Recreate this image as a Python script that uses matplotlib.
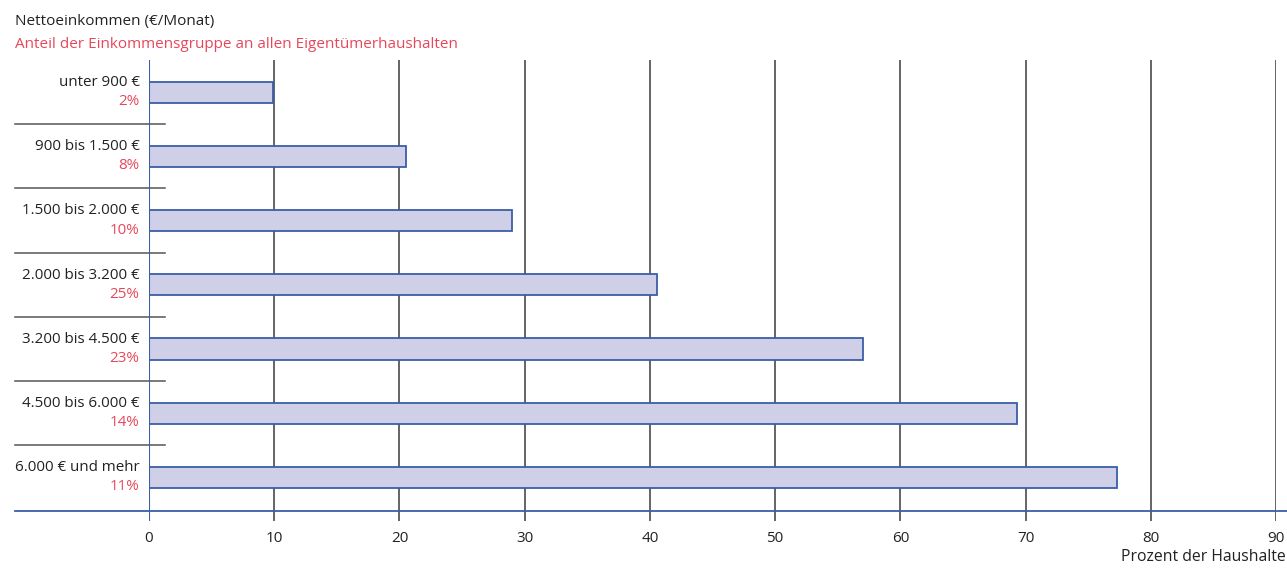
import numpy as np
import matplotlib.pyplot as plt

# Data
categories = [
    "unter 900 €",
    "900 bis 1.500 €",
    "1.500 bis 2.000 €",
    "2.000 bis 3.200 €",
    "3.200 bis 4.500 €",
    "4.500 bis 6.000 €",
    "6.000 € und mehr",
]
shares = ["2%", "8%", "10%", "25%", "23%", "14%", "11%"]
values = [9.9, 20.5, 29.0, 40.6, 57.0, 69.3, 77.3]
xticks = [0, 10, 20, 30, 40, 50, 60, 70, 80, 90]

BLUE = "#3b5ea8"
FILL = "#cfcfe8"
RED = "#e8465a"
GRID = "#3a3a3a"

plt.rcParams["font.family"] = ["Open Sans", "DejaVu Sans"]

W, H = 1287, 568
fig = plt.figure(figsize=(W / 100, H / 100), dpi=100)


def px(x0, y0, x1, y1):
    return [x0 / W, 1 - y1 / H, (x1 - x0) / W, (y1 - y0) / H]


ax = fig.add_axes(px(149, 60, 1276, 521))
ax.set_xlim(0, 90)
ax.set_ylim(7.18, 0)

y = np.arange(len(categories)) + 0.5
ax.barh(y, values, height=0.33, color=FILL, edgecolor=BLUE, linewidth=1.3, zorder=3)

for x in xticks[1:]:
    ax.axvline(x, color=GRID, linewidth=1.1, zorder=1)
ax.axvline(0, color=BLUE, linewidth=1.5, zorder=4)

for sp in ax.spines.values():
    sp.set_visible(False)

# separators between categories (extend into the label area)
xl = -134 / 12.52
for i in range(1, len(categories)):
    ax.plot([xl, 1.3], [i, i], color="#555555", linewidth=1.1, clip_on=False, zorder=2)
ax.plot([xl, 91.0], [7.02, 7.02], color=BLUE, linewidth=1.3, clip_on=False, zorder=4)

for yi, name, sh in zip(y, categories, shares):
    ax.text(-0.75, yi - 0.15, name, ha="right", va="center", fontsize=10.9, color="#222222")
    ax.text(-0.75, yi + 0.15, sh, ha="right", va="center", fontsize=10.9, color=RED)

ax.set_yticks([])
ax.set_xticks(xticks)
ax.set_xticklabels([str(t) for t in xticks], fontsize=11, color="#222222")
ax.tick_params(axis="x", length=0, pad=7)

fig.text(15 / W, 1 - 22 / H, "Nettoeinkommen (€/Monat)", ha="left", va="center",
         fontsize=11, color="#222222")
fig.text(15 / W, 1 - 45 / H, "Anteil der Einkommensgruppe an allen Eigentümerhaushalten",
         ha="left", va="center", fontsize=11, color=RED)
fig.text(1 - 1 / W, 1 - 557 / H, "Prozent der Haushalte", ha="right", va="center",
         fontsize=11.3, color="#222222")

fig.savefig("out.png", dpi=100)
